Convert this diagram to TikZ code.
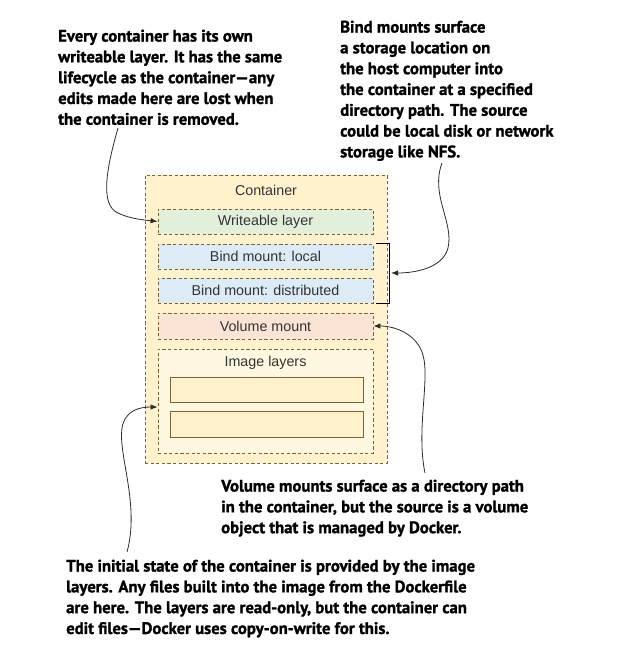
\documentclass[tikz,border=0pt]{standalone}
\usepackage{fontspec}
\setmainfont{Liberation Sans}
\newfontfamily\callfont[BoldFeatures={FakeBold=1.3}]{PT Sans}
\usetikzlibrary{arrows.meta}
\definecolor{brd}{HTML}{7F6232}
\definecolor{contfill}{HTML}{FFF2CC}
\definecolor{wfill}{HTML}{E2EFDA}
\definecolor{bfill}{HTML}{DDEBF7}
\definecolor{vfill}{HTML}{FBE4D5}
\definecolor{ifill}{HTML}{FFF8E1}
\definecolor{txt}{HTML}{333333}
\definecolor{arr}{HTML}{2B2B2B}
\tikzset{
  dbox/.style={draw=brd, line width=0.9pt, dash pattern=on 3.2pt off 2.4pt, inner sep=0pt, minimum width=215pt, minimum height=25pt},
  lbl/.style={text=txt, font=\fontsize{14.3}{16}\selectfont, inner sep=0pt},
  solidbox/.style={draw=brd, line width=0.9pt, fill=contfill, minimum width=193pt, minimum height=25pt, inner sep=0pt},
  callout/.style={anchor=north west, align=left, inner sep=0pt, text=black, font=\callfont\bfseries\fontsize{16.7}{20.8}\selectfont},
  conn/.style={draw=arr, line width=0.8pt, -{Latex[length=7pt,width=5.5pt]}},
}
\begin{document}
\begin{tikzpicture}[x=1pt,y=-1pt]
\useasboundingbox (0,0) rectangle (623,656);
% container
\node[dbox, fill=contfill, minimum width=242pt, minimum height=288pt] (cont) at (266,319) {};
\node[lbl] (contlbl) at (266,190) {Container};
\node[dbox, fill=wfill] (wl) at (265.5,221.5) {};
\node[lbl] at (wl) {Writeable layer};
\node[dbox, fill=bfill] (bl) at (265.5,256.5) {};
\node[lbl] at (bl) {Bind mount: local};
\node[dbox, fill=bfill] (bd) at (265.5,290.5) {};
\node[lbl] at (bd) {Bind mount: distributed};
\node[dbox, fill=vfill, minimum height=26pt] (vm) at (265.5,326) {};
\node[lbl] at (vm) {Volume mount};
\node[dbox, fill=ifill, minimum height=104pt] (il) at (265.5,401) {};
\node[lbl] (illbl) at (265.5,363) {Image layers};
\node[solidbox] (i1) at (266.5,389.5) {};
\node[solidbox, minimum height=26pt] (i2) at (266.5,424) {};
% bracket
\coordinate (bt) at (376,243);
\coordinate (bb) at (376,303);
\coordinate (bm) at (389,273);
\draw[line width=0.9pt, black] (bt) -- (389,243) -- (389,303) -- (bb);
% callouts
\node[callout] (t1) at (58,29.5) {Every container has its own\\writeable layer. It has the same\\lifecycle as the container—any\\edits made here are lost when\\the container is removed.};
\node[callout] (t2) at (340,20.5) {Bind mounts surface\\a storage location on\\the host computer into\\the container at a specified\\directory path. The source\\could be local disk or network\\storage like NFS.};
\node[callout] (t3) at (221,479.5) {Volume mounts surface as a directory path\\in the container, but the source is a volume\\object that is managed by Docker.};
\node[callout] (t4) at (66,559.5) {The initial state of the container is provided by the image\\layers. Any files built into the image from the Dockerfile\\are here. The layers are read-only, but the container can\\edit files—Docker uses copy-on-write for this.};
% connectors
\coordinate (s1) at (118,128);
\coordinate (s2) at (442,163);
\coordinate (s3) at (425,473);
\coordinate (s4) at (127,552);
\draw[conn] (s1) .. controls (106,170) and (100,205) .. (118,213) .. controls (130,219) and (145,220) .. (wl.west);
\draw[conn] (s2) .. controls (430,195) and (454,222) .. (448,248) .. controls (443,268) and (415,273) .. ([xshift=2pt]bm);
\draw[conn] (s3) .. controls (416,430) and (430,380) .. (423,355) .. controls (417,334) and (395,326) .. (vm.east);
\draw[conn] (s4) .. controls (140,505) and (118,455) .. (122,428) .. controls (125,410) and (140,407) .. ([yshift=-6pt]il.west);
\end{tikzpicture}
\end{document}
